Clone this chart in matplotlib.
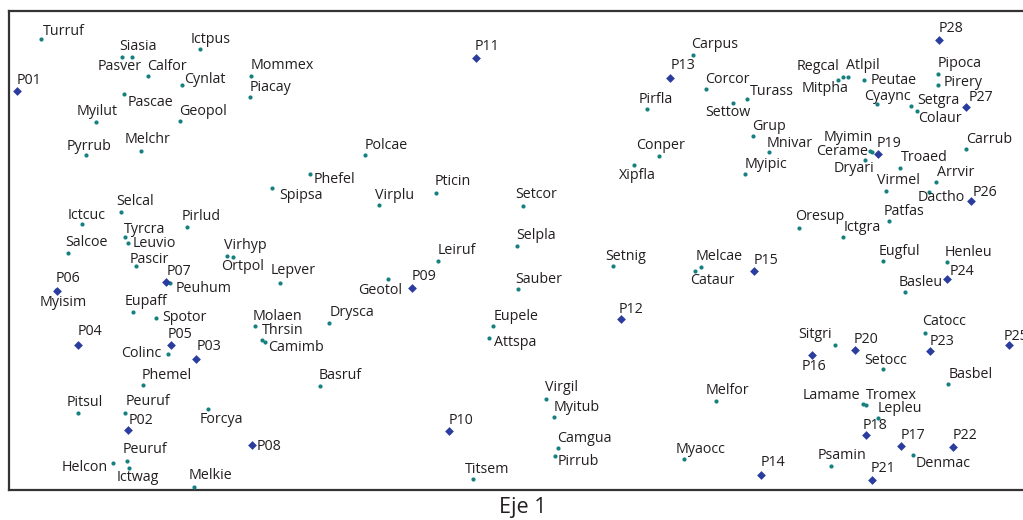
import matplotlib
matplotlib.use("Agg")
import matplotlib.pyplot as plt

plt.rcParams['font.family'] = ['Open Sans', 'DejaVu Sans']

# ---- data: species scores (Eje 1, Eje 2 in plot units; Eje 2 grows downward) ----
species_names = [
    "Turruf", "Pasver", "Siasia", "Calfor", "Ictpus", "Cynlat", "Mommex", "Piacay",
    "Pascae", "Myilut", "Geopol", "Pyrrub", "Melchr", "Phefel", "Spipsa", "Selcal",
    "Ictcuc", "Pirlud", "Tyrcra", "Leuvio", "Salcoe", "Pascir", "Virhyp", "Ortpol",
    "Lepver", "Myisim", "Peuhum", "Eupaff", "Spotor", "Molaen", "Thrsin", "Camimb",
    "Drysca", "Colinc", "Phemel", "Basruf", "Pitsul", "Peuruf", "Forcya", "Peuruf",
    "Helcon", "Ictwag", "Melkie", "Polcae", "Virplu", "Pticin", "Setcor", "Selpla",
    "Pirfla", "Conper", "Xipfla", "Leiruf", "Setnig", "Geotol", "Sauber", "Eupele",
    "Attspa", "Virgil", "Myitub", "Camgua", "Pirrub", "Titsem", "Carpus", "Corcor",
    "Turass", "Settow", "Grup", "Mnivar", "Myipic", "Mitpha", "Regcal", "Atlpil",
    "Peutae", "Cyaync", "Setgra", "Colaur", "Pipoca", "Pirery", "Myimin", "Cerame",
    "Dryari", "Troaed", "Virmel", "Arrvir", "Dactho", "Carrub", "Patfas", "Oresup",
    "Ictgra", "Melcae", "Cataur", "Eugful", "Henleu", "Basleu", "Catocc", "Sitgri",
    "Setocc", "Basbel", "Melfor", "Lamame", "Tromex", "Lepleu", "Denmac", "Myaocc",
    "Psamin",
]
species_x = [
    41.3, 122.3, 132.3, 148.3, 200.0, 181.7, 250.7, 250.0,
    124.3, 96.3, 180.0, 86.3, 140.7, 310.3, 272.3, 121.0,
    82.0, 187.0, 125.3, 128.3, 68.3, 135.7, 233.3, 226.7,
    280.0, 56.0, 170.0, 133.0, 156.0, 255.0, 262.0, 265.0,
    329.0, 167.7, 143.0, 319.7, 78.0, 125.3, 208.0, 127.3,
    112.7, 129.3, 194.0, 365.0, 378.7, 436.0, 522.7, 516.7,
    646.7, 659.3, 634.3, 437.7, 612.7, 388.3, 518.3, 493.3,
    488.7, 546.0, 554.0, 558.0, 555.3, 472.7, 692.7, 706.3,
    746.7, 732.7, 752.7, 769.0, 745.3, 838.3, 842.7, 848.3,
    863.7, 877.0, 911.0, 917.0, 937.7, 937.7, 872.0, 869.7,
    864.7, 900.3, 885.7, 935.7, 929.3, 966.0, 888.7, 799.3,
    843.3, 701.0, 695.3, 883.3, 946.7, 905.0, 925.3, 835.0,
    882.7, 948.3, 716.0, 863.0, 866.0, 877.7, 913.3, 683.7,
    831.3,
]
species_y = [
    39.0, 57.3, 57.3, 75.7, 49.0, 85.0, 76.0, 97.0,
    93.7, 121.7, 121.0, 155.0, 151.0, 174.0, 187.7, 212.3,
    224.3, 227.0, 237.3, 242.7, 253.3, 266.3, 257.3, 256.0,
    283.3, 290.0, 283.3, 311.7, 318.3, 326.3, 340.3, 341.7,
    323.0, 353.7, 384.7, 385.7, 412.7, 412.7, 408.7, 460.7,
    463.3, 467.7, 486.7, 155.3, 205.3, 192.7, 205.7, 246.2,
    109.3, 156.0, 165.3, 261.0, 265.7, 279.0, 289.0, 325.7,
    338.3, 398.7, 417.3, 448.0, 455.7, 478.7, 54.7, 89.3,
    99.3, 103.3, 136.0, 151.7, 173.7, 80.0, 77.3, 76.7,
    80.0, 104.0, 106.0, 110.7, 74.0, 85.0, 152.0, 151.0,
    160.3, 168.3, 190.7, 181.7, 191.7, 149.0, 221.0, 228.3,
    236.7, 266.7, 271.0, 260.7, 262.0, 292.3, 332.7, 345.3,
    369.0, 384.0, 401.0, 404.0, 404.7, 418.3, 455.0, 459.0,
    465.7,
]

# ---- data: site scores ----
site_names = ["P%02d" % i for i in range(1, 29)]
site_x = [16.7, 128.3, 196.3, 78.0, 171.0, 56.7, 166.0, 251.7, 412.0, 449.3,
          475.7, 620.7, 670.0, 760.7, 754.0, 811.7, 901.3, 866.3, 877.7, 855.0,
          872.0, 953.3, 930.3, 946.7, 1009.0, 970.7, 965.7, 938.7]
site_y = [90.7, 429.7, 359.3, 345.0, 345.0, 290.7, 282.3, 444.7, 288.3, 431.3,
          57.7, 319.3, 77.7, 474.7, 270.7, 354.7, 445.7, 434.7, 154.3, 349.7,
          480.0, 447.0, 351.0, 278.7, 345.3, 201.3, 106.7, 40.0]

# ---- layout: label anchor points (left edge, vertical centre) ----
species_label_xy = [
    (43, 31), (98, 66.7), (119, 46.7), (146.7, 66), (191, 39), (184, 79.3), (251, 65), (250, 87.3),
    (128, 102.3), (77, 111), (179, 111), (66.7, 146), (125, 139), (314, 179.7), (279, 195), (116, 201.7),
    (68, 215), (181.7, 216.7), (124, 229.3), (132.7, 243), (65, 242), (130, 259), (224, 245.7), (220.7, 266.7),
    (271, 270), (39.3, 302), (175.7, 288.3), (125, 301.7), (162.3, 317.3), (253, 316), (262, 330.7), (267.7, 347.3),
    (330, 312.7), (120.7, 353.3), (141.7, 375), (319, 375), (66.7, 402.7), (125.3, 401), (200, 419), (122.7, 449.3),
    (62, 467.3), (116.7, 477.3), (189, 475.7), (365, 145.7), (375, 195), (435, 181), (515, 194.7), (516, 235.7),
    (638.3, 99), (635.7, 145), (618.7, 175), (437.7, 250), (605, 256), (357.7, 290), (515, 279), (494, 316),
    (494, 342.7), (545, 387.3), (553.3, 407.3), (556.7, 438.3), (557.7, 461.7), (465, 469), (691, 44.3), (705, 79.3),
    (750, 91), (705, 112.7), (751.7, 126), (766.7, 143.3), (744.3, 164), (801.7, 88.3), (796.7, 66.7), (846, 65.7),
    (870.7, 80.7), (864, 96), (917.7, 100), (917.7, 118.3), (937.7, 63.3), (943.7, 82.7), (824, 137.7), (816, 151.7),
    (833.3, 168.3), (900.7, 157.7), (877.3, 180), (936.7, 172.3), (917.3, 197.7), (966, 139.3), (883.3, 211), (795, 216.7),
    (843.3, 227.7), (695.7, 256.7), (690, 280), (879, 251.7), (945, 252.3), (898.3, 282.3), (922, 321.7), (798.3, 334.3),
    (864, 360), (948.3, 374), (705.7, 390.7), (802.3, 395.7), (865.7, 395.7), (877.3, 408.3), (916, 463.3), (676, 449.3),
    (817.3, 455),
]
site_label_xy = [
    (16.7, 80.7), (128.3, 420), (196.7, 346.7), (78, 331.7), (168, 334.3), (56, 278.3), (166.7, 271.7), (257, 446.7),
    (411.7, 276.7), (449, 420), (475, 46.7), (618.3, 309), (670.7, 65.3), (760.7, 462.7), (753.3, 260), (801.7, 366),
    (900.7, 435), (862.3, 425), (877, 143.3), (853.3, 339), (870.7, 468.3), (952.7, 435), (930, 341), (949.3, 271),
    (1003.3, 336), (972.3, 192.7), (968.3, 97.3), (939, 28),
]

W, H = 1023, 520
fig = plt.figure(figsize=(W / 100, H / 100), dpi=100)
x0, x1 = 9, 1045
y_top, y_bot = 11, 490
ax = fig.add_axes([x0 / W, (H - y_bot) / H, (x1 - x0) / W, (y_bot - y_top) / H])
ax.set_xlim(x0, x1)
ax.set_ylim(y_bot, y_top)
ax.set_xticks([])
ax.set_yticks([])
for s in ax.spines.values():
    s.set_linewidth(1.6)
    s.set_color('#333333')

teal = '#14807f'
navy = '#2a3d9e'
ax.scatter(species_x, species_y, s=9, color=teal, zorder=3, linewidths=0)
ax.scatter(site_x, site_y, s=20, marker='D', color=navy, zorder=3, linewidths=0)

fs = 10.3
for name, (lx, ly) in zip(species_names, species_label_xy):
    ax.text(lx, ly, name, ha='left', va='center', fontsize=fs, color='#231f20', zorder=4)
for name, (lx, ly) in zip(site_names, site_label_xy):
    ax.text(lx, ly, name, ha='left', va='center', fontsize=fs, color='#231f20', zorder=4)

fig.text(523 / W, 1 - 507 / H, "Eje 1", ha='center', va='center', fontsize=15.5, color='#231f20')

fig.savefig("out.png", dpi=100)
